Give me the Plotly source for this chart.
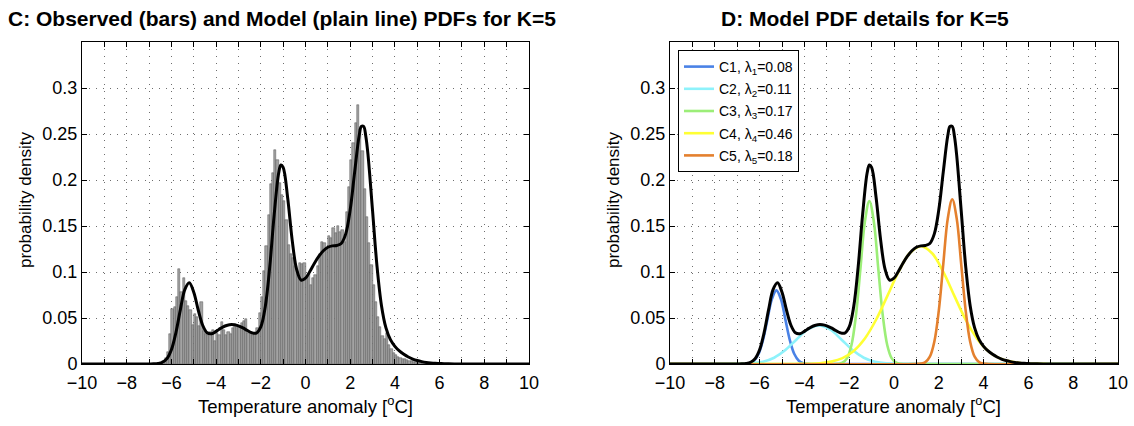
"""Panels C and D: observed histogram vs K=5 Gaussian-mixture model PDF."""
import plotly.graph_objects as go
from plotly.subplots import make_subplots

# observed PDF, bins of 0.1 degC starting at -6.5 (first centre -6.45)
bin_start = -6.45
bin_width = 0.1
obs_density = [
    0.001, 0.003, 0.006, 0.013, 0.033, 0.060, 0.062, 0.073, 0.103, 0.078,
    0.094, 0.068, 0.063, 0.059, 0.042, 0.054, 0.051, 0.041, 0.067, 0.036,
    0.033, 0.031, 0.035, 0.037, 0.025, 0.034, 0.031, 0.046, 0.037, 0.032,
    0.035, 0.033, 0.039, 0.044, 0.042, 0.041, 0.045, 0.047, 0.049, 0.034,
    0.034, 0.032, 0.034, 0.039, 0.055, 0.073, 0.101, 0.128, 0.162, 0.196,
    0.208, 0.233, 0.222, 0.197, 0.184, 0.177, 0.157, 0.129, 0.120, 0.115,
    0.106, 0.100, 0.110, 0.109, 0.110, 0.095, 0.098, 0.086, 0.093, 0.097,
    0.106, 0.120, 0.133, 0.131, 0.126, 0.139, 0.137, 0.148, 0.142, 0.150,
    0.144, 0.146, 0.133, 0.165, 0.192, 0.222, 0.240, 0.262, 0.281, 0.255,
    0.232, 0.190, 0.160, 0.132, 0.108, 0.086, 0.067, 0.051, 0.040, 0.030,
    0.027, 0.034, 0.021, 0.016, 0.012, 0.010, 0.008, 0.007, 0.005, 0.005,
    0.004, 0.003, 0.003, 0.002, 0.002, 0.001, 0.001, 0.001, 0.0005,
]

# model PDF (black line)
x_model = [-10, -7.0, -6.8, -6.6, -6.4, -6.2, -6.0, -5.8, -5.6, -5.4, -5.2, -5.0,
           -4.8, -4.6, -4.4, -4.2, -4.0, -3.8, -3.6, -3.4, -3.2, -3.0, -2.8, -2.6,
           -2.4, -2.2, -2.0, -1.8, -1.6, -1.4, -1.2, -1.1, -1.0, -0.8, -0.6, -0.4,
           -0.2, 0.0, 0.2, 0.4, 0.6, 0.8, 1.0, 1.2, 1.4, 1.6, 1.8, 2.0, 2.2, 2.4,
           2.5, 2.6, 2.7, 2.8, 3.0, 3.2, 3.4, 3.6, 3.8, 4.0, 4.2, 4.4, 4.6, 4.8,
           5.0, 5.2, 5.4, 5.6, 5.8, 6.0, 6.2, 6.4, 6.8, 7.2, 10]
y_model = [0, 0.0001, 0.0002, 0.0006, 0.0019, 0.0058, 0.0155, 0.0339, 0.0588, 0.0808,
           0.0883, 0.0780, 0.0587, 0.0421, 0.0339, 0.0329, 0.0355, 0.0387, 0.0413,
           0.0427, 0.0427, 0.0415, 0.0392, 0.0364, 0.0339, 0.0336, 0.0404, 0.0622,
           0.1055, 0.1627, 0.2076, 0.2163, 0.2138, 0.1810, 0.1355, 0.1032, 0.0913,
           0.0933, 0.1009, 0.1096, 0.1172, 0.1231, 0.1269, 0.1284, 0.1288, 0.1310,
           0.1414, 0.1676, 0.2088, 0.2480, 0.2582, 0.2583, 0.2473, 0.2265, 0.1666,
           0.1062, 0.0634, 0.0392, 0.0265, 0.0192, 0.0142, 0.0105, 0.0076, 0.0054,
           0.0038, 0.0026, 0.0017, 0.0011, 0.0007, 0.0005, 0.0003, 0.0002, 0.0001,
           0.0, 0]

# mixture components (panel D)
x_c1 = [-10, -6.85, -6.65, -6.45, -6.25, -6.05, -5.85, -5.65, -5.45, -5.25, -5.05,
        -4.85, -4.65, -4.45, -4.25, -4.05, -3.85, -3.65, 10]
y_c1 = [0, 0.00003, 0.0002, 0.0009, 0.0035, 0.0108, 0.0260, 0.0485, 0.0706, 0.0800,
        0.0706, 0.0485, 0.0260, 0.0108, 0.0035, 0.0009, 0.0002, 0.00003, 0]
x_c2 = [-10, -7.35, -6.85, -6.35, -5.85, -5.35, -4.85, -4.35, -3.85, -3.35, -2.85,
        -2.35, -1.85, -1.35, -0.85, -0.35, 0.15, 0.65, 10]
y_c2 = [0, 0.00003, 0.00016, 0.0007, 0.0025, 0.0068, 0.0151, 0.0267, 0.0375, 0.0420,
        0.0375, 0.0267, 0.0151, 0.0068, 0.0025, 0.0007, 0.00016, 0.00003, 0]
x_c3 = [-10, -2.7, -2.5, -2.3, -2.1, -1.9, -1.7, -1.5, -1.3, -1.1, -0.9, -0.7, -0.5,
        -0.3, -0.1, 0.1, 0.3, 0.5, 10]
y_c3 = [0, 0.00003, 0.00024, 0.00138, 0.00607, 0.02043, 0.05255, 0.10317, 0.15466,
        0.177, 0.15466, 0.10317, 0.05255, 0.02043, 0.00607, 0.00138, 0.00024,
        0.00003, 0]
x_c4 = [-10, -4.8, -4.3, -3.8, -3.3, -2.8, -2.3, -1.8, -1.3, -0.8, -0.3, 0.2, 0.7,
        1.2, 1.7, 2.2, 2.7, 3.2, 3.7, 4.2, 4.7, 5.2, 5.7, 6.2, 6.7, 7.2, 10]
y_c4 = [0, 0.00002, 0.0001, 0.0003, 0.0009, 0.0026, 0.0064, 0.0142, 0.0278, 0.0481,
        0.0738, 0.1002, 0.1204, 0.128, 0.1204, 0.1002, 0.0738, 0.0481, 0.0278,
        0.0142, 0.0064, 0.0026, 0.0009, 0.0003, 0.0001, 0.00002, 0]
x_c5 = [-10, 1.0, 1.2, 1.4, 1.6, 1.8, 2.0, 2.2, 2.4, 2.6, 2.8, 3.0, 3.2, 3.4, 3.6,
        3.8, 4.0, 4.2, 10]
y_c5 = [0, 0.00006, 0.0004, 0.0020, 0.0079, 0.0242, 0.0581, 0.1086, 0.1580, 0.179,
        0.1580, 0.1086, 0.0581, 0.0242, 0.0079, 0.0020, 0.0004, 0.00006, 0]

comp_names = ["C1, λ<sub>1</sub>=0.08", "C2, λ<sub>2</sub>=0.11", "C3, λ<sub>3</sub>=0.17",
              "C4, λ<sub>4</sub>=0.46", "C5, λ<sub>5</sub>=0.18"]
comp_colors = ["#4a82e6", "#8ef2fb", "#9cee78", "#ffff33", "#e4802e"]

x_ticks = list(range(-10, 11))
x_ticktext = [("\u2212" + str(-v) if v < 0 else str(v)) if v % 2 == 0 else "" for v in x_ticks]
y_ticks = [0, 0.05, 0.1, 0.15, 0.2, 0.25, 0.3]
y_ticktext = ["0", "0.05", "0.1", "0.15", "0.2", "0.25", "0.3"]

FONT = "Liberation Sans, Arial, Helvetica, sans-serif"
W, H = 1134, 426

fig = make_subplots(rows=1, cols=2)

fig.add_trace(go.Bar(x0=bin_start, dx=bin_width, y=obs_density, showlegend=False,
                     marker=dict(color="#a3a3a3", line=dict(color="#555555", width=0.5))),
              row=1, col=1)
fig.add_trace(go.Scatter(x=x_model, y=y_model, mode="lines", showlegend=False,
                         line=dict(color="black", width=3, shape="spline")),
              row=1, col=1)

comps = [(x_c1, y_c1), (x_c2, y_c2), (x_c3, y_c3), (x_c4, y_c4), (x_c5, y_c5)]
for i, ((cx, cy), name, col) in enumerate(zip(comps, comp_names, comp_colors)):
    fig.add_trace(go.Scatter(x=cx, y=cy, mode="lines", name=name, legendgroup=f"c{i}",
                             line=dict(color=col, width=2.6, shape="spline")),
                  row=1, col=2)
fig.add_trace(go.Scatter(x=x_model, y=y_model, mode="lines", showlegend=False,
                         line=dict(color="black", width=3, shape="spline")),
              row=1, col=2)

axis_common = dict(showline=True, linecolor="black", linewidth=1, mirror="ticks",
                   ticks="inside", ticklen=5, tickcolor="black", showgrid=True,
                   gridcolor="#6e6e6e", griddash="1px,6px", gridwidth=1, zeroline=False,
                   tickfont=dict(family=FONT, size=18, color="black"), automargin=False)

fig.update_xaxes(range=[-10, 10], tickvals=x_ticks, ticktext=x_ticktext,
                 ticklabelstandoff=2, **axis_common)
fig.update_yaxes(range=[0, 0.35], tickvals=y_ticks, ticktext=y_ticktext, **axis_common)

# pixel-matched placement
fig.update_layout(
    xaxis=dict(domain=[82 / W, 529 / W]),
    xaxis2=dict(domain=[670 / W, 1118 / W]),
    yaxis=dict(domain=[62 / H, 384 / H]),
    yaxis2=dict(domain=[62 / H, 384 / H]),
)

titles = [
    (282, "C: Observed (bars) and Model (plain line) PDFs for K=5"),
    (865, "D: Model PDF details for K=5"),
]
for xc, txt in titles:
    fig.add_annotation(x=xc / W, y=1 - 19 / H, xref="paper", yref="paper", text=f"<b>{txt}</b>",
                       showarrow=False, font=dict(family=FONT, size=21, color="black"),
                       xanchor="center", yanchor="middle")

for xc in (305, 893):
    fig.add_annotation(x=xc / W, y=1 - 405 / H, xref="paper", yref="paper",
                       text="Temperature anomaly [<sup>o</sup>C]", showarrow=False,
                       font=dict(family=FONT, size=18.5, color="black"),
                       xanchor="center", yanchor="middle")
for xc in (25, 613):
    fig.add_annotation(x=xc / W, y=1 - 200 / H, xref="paper", yref="paper",
                       text="probability density", textangle=-90, showarrow=False,
                       font=dict(family=FONT, size=17, color="black"),
                       xanchor="center", yanchor="middle")

fig.update_layout(
    width=W, height=H,
    margin=dict(l=0, r=0, t=0, b=0),
    paper_bgcolor="white", plot_bgcolor="white",
    bargap=0,
    font=dict(family=FONT, color="black"),
    legend=dict(x=678 / W, y=1 - 50 / H, xanchor="left", yanchor="top",
                bgcolor="white", bordercolor="black", borderwidth=1, tracegroupgap=1,
                font=dict(family=FONT, size=14, color="black")),
)

# drop the default page margin so the figure sits at the window's top-left corner
fig.write_html("out.html", config={"displayModeBar": False},
               post_script="document.body.style.margin='0';")
